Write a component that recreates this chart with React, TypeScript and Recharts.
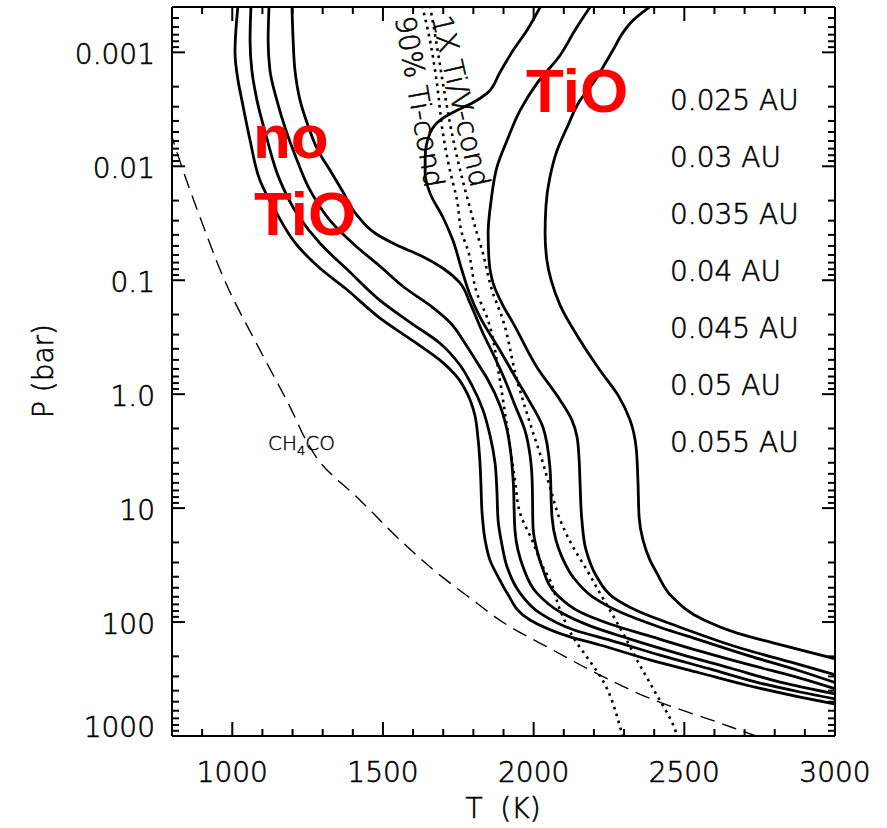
import React from 'react'
import { LineChart, Line, XAxis, YAxis } from 'recharts'

type Pt = { t: number; p: number }
const pts = (rows: number[][]): Pt[] => rows.map(([t, p]) => ({ t, p }))

// T (K) vs P (bar) profiles, one per orbital distance
const au025 = pts([
  [2390, 3.9e-4], [2330, 5.24e-4], [2297, 6.68e-4], [2263, 9.6e-4], [2230, 1.35e-3], [2197, 1.87e-3],
  [2154, 2.64e-3], [2111, 4.55e-3], [2078, 7.24e-3], [2054, 0.0125], [2041, 0.022], [2038, 0.0387],
  [2044, 0.0668], [2058, 0.1], [2088, 0.166], [2154, 0.336], [2220, 0.616], [2280, 1.02], [2320, 1.69],
  [2340, 2.92], [2346, 5.68], [2350, 12], [2363, 19.1], [2386, 28.6], [2409, 37.2], [2459, 60],
  [2565, 96], [2675, 125], [2798, 153], [3010, 213],
])
const au030 = pts([
  [2190, 3.9e-4], [2137, 6.4e-4], [2088, 1.06e-3], [2011, 1.87e-3], [1955, 3.23e-3], [1912, 5.91e-3],
  [1878, 0.0102], [1859, 0.0199], [1849, 0.0387], [1852, 0.0668], [1868, 0.111], [1898, 0.166],
  [1932, 0.238], [2011, 0.58], [2088, 1.13], [2127, 1.69], [2144, 2.38], [2151, 3.79], [2154, 6.04],
  [2160, 12.7], [2174, 23.4], [2210, 40.3], [2263, 60.4], [2353, 81.7], [2486, 111], [2685, 169],
  [2851, 224], [3010, 295],
])
const au035 = pts([
  [2024, 3.9e-4], [1978, 6.4e-4], [1932, 9.6e-4], [1888, 1.5e-3], [1845, 2.29e-3], [1795, 2.8e-3],
  [1746, 3.23e-3], [1689, 3.95e-3], [1656, 5.14e-3], [1640, 8.34e-3], [1640, 0.0115], [1656, 0.0172],
  [1699, 0.028], [1732, 0.0446], [1762, 0.0817], [1789, 0.135], [1822, 0.211], [1888, 0.411],
  [1945, 0.754], [1978, 1.06], [2031, 1.95], [2054, 4.37], [2061, 12], [2074, 19.1], [2094, 26.9],
  [2131, 40.3], [2197, 60.4], [2287, 81.7], [2419, 111], [2552, 144], [2718, 199], [2884, 269],
  [3010, 347],
])
const au040 = pts([
  [1198, 3.9e-4], [1202, 7.85e-4], [1208, 1.44e-3], [1225, 2.64e-3], [1251, 4.37e-3], [1284, 7.24e-3],
  [1324, 0.0108], [1364, 0.0162], [1414, 0.0269], [1474, 0.0387], [1547, 0.0493], [1623, 0.0604],
  [1699, 0.0785], [1756, 0.106], [1789, 0.159], [1832, 0.292], [1872, 0.483], [1905, 0.754],
  [1938, 1.25], [1971, 2.07], [1988, 3.43], [1995, 5.68], [1998, 14.7], [2011, 23.4], [2028, 32.9],
  [2078, 58], [2154, 81.7], [2253, 104], [2386, 133], [2552, 180], [2718, 238], [2884, 310], [3010, 392],
])
const au045 = pts([
  [1122, 3.9e-4], [1119, 7.85e-4], [1125, 1.44e-3], [1148, 2.64e-3], [1178, 4.83e-3], [1215, 8.86e-3],
  [1258, 0.0162], [1324, 0.0298], [1407, 0.0493], [1490, 0.0754], [1573, 0.117], [1656, 0.166],
  [1722, 0.234], [1772, 0.357], [1812, 0.524], [1849, 0.754], [1888, 1.25], [1912, 2.07], [1925, 3.43],
  [1932, 5.68], [1938, 15.6], [1948, 23.4], [1965, 32.9], [2011, 55.7], [2088, 81.7], [2187, 108],
  [2320, 141], [2486, 191], [2652, 253], [2818, 336], [3010, 432],
])
const au050 = pts([
  [1062, 3.9e-4], [1059, 7.85e-4], [1065, 1.44e-3], [1082, 2.64e-3], [1112, 5.35e-3], [1158, 0.0133],
  [1218, 0.0269], [1291, 0.0474], [1391, 0.0851], [1490, 0.15], [1590, 0.234], [1689, 0.357],
  [1756, 0.557], [1795, 0.834], [1832, 1.38], [1855, 2.29], [1872, 4.03], [1878, 6.95], [1882, 12.7],
  [1895, 21.1], [1912, 32.9], [1955, 55.7], [2021, 83.4], [2137, 118], [2253, 144], [2419, 195],
  [2585, 258], [2751, 343], [2884, 411], [3010, 478],
])
const au055 = pts([
  [1019, 3.9e-4], [1012, 6.4e-4], [1009, 1e-3], [1019, 1.76e-3], [1032, 2.64e-3], [1059, 5.91e-3],
  [1092, 0.0133], [1142, 0.0243], [1215, 0.0493], [1291, 0.0785], [1374, 0.117], [1490, 0.215],
  [1606, 0.35], [1689, 0.503], [1749, 0.724], [1779, 0.98], [1805, 1.53], [1815, 2.38], [1822, 4.03],
  [1825, 6.04], [1829, 11.1], [1839, 19.1], [1855, 28.6], [1888, 42.8], [1912, 55.7], [1988, 96],
  [2121, 135], [2220, 159], [2386, 215], [2552, 280], [2718, 364], [2884, 455], [3010, 530],
])

// condensation curves and the CH4/CO boundary
const tiCond90 = pts([
  [1630, 3.9e-4], [1656, 7.85e-4], [1679, 1.87e-3], [1699, 5.14e-3], [1722, 0.0108], [1746, 0.0199],
  [1762, 0.0387], [1782, 0.0546], [1812, 0.13], [1845, 0.211], [1888, 0.754], [1905, 1.47], [1922, 2.92],
  [1938, 5.68], [1955, 11.1], [1995, 19.1], [2031, 32.9], [2054, 42.8], [2088, 78.5], [2137, 144],
  [2177, 203], [2234, 343], [2287, 834], [2303, 1200],
])
const tiVCond = pts([
  [1656, 3.9e-4], [1676, 7.85e-4], [1699, 1.87e-3], [1729, 5.14e-3], [1756, 0.0108], [1782, 0.0199],
  [1812, 0.0387], [1829, 0.0546], [1865, 0.13], [1895, 0.211], [1945, 0.754], [1988, 1.8], [2031, 4.03],
  [2054, 6.54], [2088, 12.7], [2131, 22], [2177, 35], [2220, 55.7], [2253, 78.5], [2303, 135],
  [2343, 215], [2399, 395], [2466, 834], [2486, 1200],
])
const ch4co = pts([
  [793, 4.83e-3], [833, 0.0102], [893, 0.028], [986, 0.117], [1092, 0.411], [1202, 1.47], [1241, 2.43],
  [1291, 3.95], [1424, 8.51], [1557, 19.1], [1689, 38.7], [1789, 61.5], [1912, 106], [2064, 176],
  [2220, 292], [2399, 483], [2618, 769], [2751, 1021], [2818, 1151],
])

const profiles = [au025, au030, au035, au040, au045, au050, au055]
const auLabels = ['0.025 AU', '0.03 AU', '0.035 AU', '0.04 AU', '0.045 AU', '0.05 AU', '0.055 AU']

const tMajor = [1000, 1500, 2000, 2500, 3000]
const tTicks: number[] = []
for (let t = 900; t <= 3000; t += 100) tTicks.push(t)

const pMajor = [0.001, 0.01, 0.1, 1, 10, 100, 1000]
const pLabels = ['0.001', '0.01', '0.1', '1.0', '10', '100', '1000']
const pTicks: number[] = []
for (let e = -4; e <= 2; e++) {
  for (let m = 1; m <= 9; m++) {
    const v = +(m * Math.pow(10, e)).toPrecision(3)
    if (v >= 4e-4) pTicks.push(v)
  }
}
pTicks.push(1000)

const W = 887
const H = 828
const box = { left: 172, top: 7, right: 835, bottom: 736 }
const ink = '#000'
const bold = "'Liberation Sans', Arial, sans-serif"
// thin IDL-like lettering
const label = {
  fontFamily: "'DejaVu Sans', sans-serif",
  fontWeight: 200,
  fill: ink,
  stroke: ink,
  strokeWidth: 0.6,
}

const isDecade = (v: number) => Math.abs(Math.log10(v) - Math.round(Math.log10(v))) < 1e-6

function BottomTick({ x, y, payload }: any) {
  const v = payload.value
  const major = tMajor.includes(v)
  return (
    <g>
      <line x1={x} y1={y} x2={x} y2={y - (major ? 14 : 7)} stroke={ink} strokeWidth={2} />
      {major && (
        <text x={x} y={y + 46} textAnchor="middle" fontSize={28} {...label}>
          {v}
        </text>
      )}
    </g>
  )
}

function TopTick({ x, y, payload }: any) {
  const major = tMajor.includes(payload.value)
  return <line x1={x} y1={y} x2={x} y2={y + (major ? 14 : 7)} stroke={ink} strokeWidth={2} />
}

function LeftTick({ x, y, payload }: any) {
  const v = payload.value
  const major = isDecade(v)
  const i = pMajor.findIndex((m) => Math.abs(m - v) / m < 1e-6)
  return (
    <g>
      <line x1={x} y1={y} x2={x + (major ? 13 : 7)} y2={y} stroke={ink} strokeWidth={2} />
      {i >= 0 && (
        <text x={x - 17} y={v === 1000 ? y + 1 : y + 12} textAnchor="end" fontSize={28} {...label}>
          {pLabels[i]}
        </text>
      )}
    </g>
  )
}

function RightTick({ x, y, payload }: any) {
  const major = isDecade(payload.value)
  return <line x1={x} y1={y} x2={x - (major ? 13 : 7)} y2={y} stroke={ink} strokeWidth={2} />
}

const axisLine = { stroke: ink, strokeWidth: 2 }

export default function App() {
  return (
    <div style={{ position: 'absolute', left: 0, top: 0, width: W, height: H, background: '#fff' }}>
      <LineChart
        width={W}
        height={H}
        margin={{ top: box.top - 1, left: box.left - 1, right: W - box.right - 1, bottom: H - box.bottom - 1 }}
      >
        <XAxis
          xAxisId="b"
          type="number"
          dataKey="t"
          domain={[800, 3000]}
          allowDataOverflow
          ticks={tTicks}
          interval={0}
          height={1}
          tickSize={0}
          tickMargin={0}
          tickLine={false}
          axisLine={axisLine}
          tick={(p: any) => <BottomTick {...p} />}
        />
        <XAxis
          xAxisId="t"
          orientation="top"
          type="number"
          dataKey="t"
          domain={[800, 3000]}
          allowDataOverflow
          ticks={tTicks}
          interval={0}
          height={1}
          tickSize={0}
          tickMargin={0}
          tickLine={false}
          axisLine={axisLine}
          tick={(p: any) => <TopTick {...p} />}
        />
        <YAxis
          yAxisId="l"
          type="number"
          scale="log"
          domain={[4e-4, 1000]}
          allowDataOverflow
          reversed
          ticks={pTicks}
          interval={0}
          width={1}
          tickSize={0}
          tickMargin={0}
          tickLine={false}
          axisLine={axisLine}
          tick={(p: any) => <LeftTick {...p} />}
        />
        <YAxis
          yAxisId="r"
          orientation="right"
          type="number"
          scale="log"
          domain={[4e-4, 1000]}
          allowDataOverflow
          reversed
          ticks={pTicks}
          interval={0}
          width={1}
          tickSize={0}
          tickMargin={0}
          tickLine={false}
          axisLine={axisLine}
          tick={(p: any) => <RightTick {...p} />}
        />
        <Line
          name="ch4co"
          data={ch4co}
          dataKey="p"
          xAxisId="b"
          yAxisId="l"
          type="monotoneY"
          stroke={ink}
          strokeWidth={1.4}
          strokeDasharray="15 8"
          dot={false}
          activeDot={false}
          isAnimationActive={false}
        />
        {[tiCond90, tiVCond].map((d, i) => (
          <Line
            key={'c' + i}
            name={'cond' + i}
            data={d}
            dataKey="p"
            xAxisId="b"
            yAxisId="l"
            type="monotoneY"
            stroke={ink}
            strokeWidth={2.6}
            strokeDasharray="2.6 4.6"
            dot={false}
            activeDot={false}
            isAnimationActive={false}
          />
        ))}
        {profiles.map((d, i) => (
          <Line
            key={auLabels[i]}
            name={auLabels[i]}
            data={d}
            dataKey="p"
            xAxisId="b"
            yAxisId="l"
            type="monotoneY"
            stroke={ink}
            strokeWidth={2.8}
            dot={false}
            activeDot={false}
            isAnimationActive={false}
          />
        ))}
      </LineChart>
      <svg width={W} height={H} style={{ position: 'absolute', left: 0, top: 0, pointerEvents: 'none' }}>
        <text x={503} y={818} textAnchor="middle" fontSize={28} {...label}>
          {'T\u00a0 (K)'}
        </text>
        <text x={53} y={371} textAnchor="middle" fontSize={28} {...label} transform="rotate(-90 53 371)">
          P (bar)
        </text>
        {auLabels.map((s, i) => (
          <text key={s} x={670} y={110 + i * 57} fontSize={28} {...label}>
            {s}
          </text>
        ))}
        <text x={268} y={450} fontSize={20} {...label} strokeWidth={0.4}>
          CH<tspan fontSize={13} dy={5}>4</tspan>
          <tspan dy={-5}>CO</tspan>
        </text>
        <text x={432} y={18} fontSize={28} {...label} transform="rotate(77 432 18)">
          1X Ti/V-cond
        </text>
        <text x={395} y={18} fontSize={28} {...label} transform="rotate(80 395 18)">
          90% Ti-cond
        </text>
        <text x={253} y={158} fontSize={62} fontWeight="bold" fontFamily={bold} fill="#ff0000">
          no
        </text>
        <text x={254} y={235} fontSize={62} fontWeight="bold" fontFamily={bold} fill="#ff0000">
          TiO
        </text>
        <text x={526} y={112} fontSize={62} fontWeight="bold" fontFamily={bold} fill="#ff0000">
          TiO
        </text>
      </svg>
    </div>
  )
}
